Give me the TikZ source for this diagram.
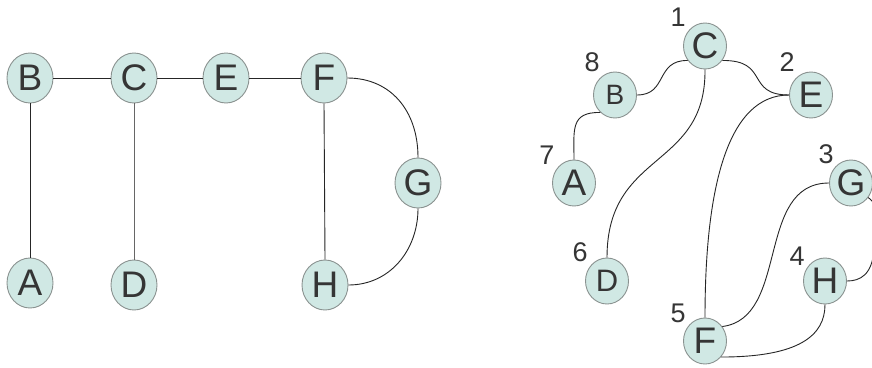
\documentclass[tikz,border=0pt]{standalone}
\usepackage{fontspec}
\setmainfont{Liberation Sans}
\usetikzlibrary{shapes.geometric}
\definecolor{vfill}{HTML}{D0E8E4}
\definecolor{vline}{HTML}{8A9290}
\definecolor{vtext}{HTML}{353535}
\tikzset{
  vbig/.style={ellipse, draw=vline, line width=0.9pt, fill=vfill, inner sep=0pt,
    minimum width=46, minimum height=50, text=vtext, font=\fontsize{37}{37}\selectfont},
  vsmall/.style={vbig, minimum width=43, minimum height=46},
  vsmalltxtB/.style={font=\fontsize{28}{28}\selectfont},
  vsmalltxtD/.style={font=\fontsize{31}{31}\selectfont},
  numlab/.style={text=vtext, font=\fontsize{27}{27}\selectfont, inner sep=0pt},
  edge/.style={draw=black!85, line width=0.9pt},
  grayedge/.style={draw=black!60, line width=1pt}
}
\begin{document}
\begin{tikzpicture}[x=1pt,y=-1pt]
\clip (0,0) rectangle (872,367);
\fill[white] (0,0) rectangle (872,367);

% first drawing: the graph laid out in rows
\node[vbig] (lB) at (30,78) {B};
\node[vbig] (lC) at (134,78) {C};
\node[vbig] (lE) at (226,78) {E};
\node[vbig] (lF) at (324,78) {F};
\node[vbig] (lG) at (418,183) {G};
\node[vbig] (lA) at (30,283) {A};
\node[vbig] (lD) at (134,285) {D};
\node[vbig] (lH) at (325,285) {H};

\draw[edge] (lB) -- (lC);
\draw[edge] (lC) -- (lE);
\draw[edge] (lE) -- (lF);
\draw[edge] (lB.south) -- (lA.north);
\draw[grayedge] (lC.south) -- (lD.north);
\draw[edge] (lF.south) -- (lH.north);
\draw[edge] (lF.east) .. controls (390,78) and (418,110) .. (lG.north);
\draw[edge] (lG.south) .. controls (418,250) and (390,285) .. (lH.east);

% second drawing: the numbered vertex order on a circle
\node[vsmall] (rC) at (705,46) {C};
\node[vsmall,vsmalltxtB] (rB) at (615,95) {B};
\node[vsmall] (rE) at (811,95) {E};
\node[vsmall] (rA) at (574,183) {A};
\node[vsmall] (rG) at (851,183) {G};
\node[vsmall,vsmalltxtD] (rD) at (607,281) {D};
\node[vsmall] (rH) at (825,281) {H};
\node[vsmall] (rF) at (705,341) {F};

\node[numlab] (n1) at (678,17) {1};
\node[numlab] (n2) at (787,62) {2};
\node[numlab] (n3) at (826,154) {3};
\node[numlab] (n4) at (797,256) {4};
\node[numlab] (n5) at (678,313) {5};
\node[numlab] (n6) at (580,252) {6};
\node[numlab] (n7) at (547,155) {7};
\node[numlab] (n8) at (592,62) {8};

\draw[edge] (rC.-140) .. controls (655,60) and (668,95) .. (rB.east);
\draw[edge] (rC.-40) .. controls (770,60) and (745,95) .. (rE.west);
\draw[edge] (rB.-130) .. controls (570,112) and (574,130) .. (rA.north);
\draw[edge] (rC.south) .. controls (706,170) and (607,150) .. (rD.north);
\draw[edge] (rE.west) .. controls (730,95) and (705,180) .. (rF.north);
\draw[edge] (rF.40) .. controls (790,318) and (755,183) .. (rG.west);
\draw[edge] (rF.-45) .. controls (800,357) and (825,335) .. (rH.south);
\draw[edge] (rG.-40) .. controls (880,205) and (876,225) .. (874,250)
  .. controls (872,275) and (860,281) .. (rH.east);
\end{tikzpicture}
\end{document}
